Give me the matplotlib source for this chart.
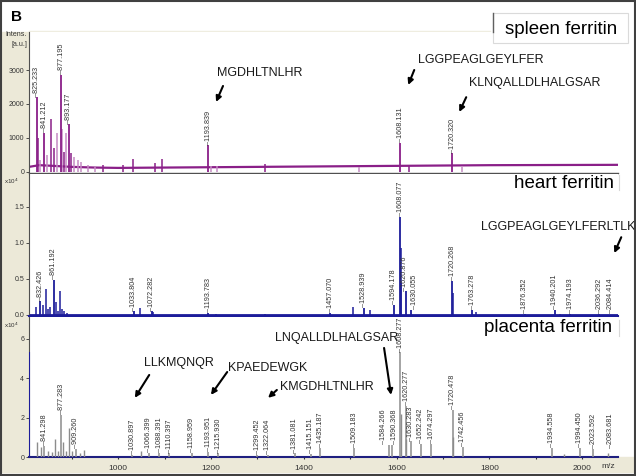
import matplotlib
matplotlib.use("Agg")
import matplotlib.pyplot as plt
from matplotlib.patches import Rectangle
from matplotlib.lines import Line2D

plt.rcParams['font.family'] = ['Liberation Sans', 'DejaVu Sans']

# ---------------- data ----------------
mz_range = [808, 2077]

# spleen ferritin (a.u.)
spleen_lab_mz = [825.233, 841.212, 877.195, 893.177, 1193.839, 1608.131, 1720.320]
spleen_lab_int = [2200, 1150, 2850, 1400, 780, 860, 550]
spleen_pk_mz = [827.5, 855, 862, 884, 899, 968, 1011, 1032, 1080, 1095, 1317, 1627]
spleen_pk_int = [1000, 1550, 700, 600, 550, 200, 220, 380, 250, 380, 230, 200]
spleen_lt_mz = [831, 846, 868, 879, 888, 905, 913, 920, 935, 950, 1200, 1214, 1520, 1740]
spleen_lt_int = [350, 500, 1150, 1250, 1150, 450, 350, 300, 200, 150, 180, 170, 160, 140]
spleen_base_mz = [808, 830, 860, 900, 950, 1000, 1100, 1200, 1400, 1600, 1800, 2077]
spleen_base_int = [150, 200, 180, 150, 130, 120, 130, 140, 160, 180, 200, 210]

# heart ferritin (x10^4)
heart_lab_mz = [832.426, 861.192, 1033.804, 1072.282, 1193.783, 1457.070, 1528.939,
                1594.178, 1608.077, 1620.876, 1630.055, 1720.268, 1763.278,
                1876.352, 1940.201, 1974.193, 2036.292, 2084.414]
heart_lab_int = [0.19, 0.49, 0.05, 0.05, 0.03, 0.03, 0.10, 0.14, 1.365, 0.33, 0.07,
                 0.47, 0.07, 0.02, 0.07, 0.015, 0.02, 0.02]
heart_pk_mz = [823, 839, 844, 849, 854, 866, 870, 874.5, 879, 884, 890, 1048, 1076,
               1211, 1317, 1506, 1542, 1609.08, 1610.08, 1721.27, 1771, 1951]
heart_pk_int = [0.11, 0.14, 0.36, 0.08, 0.11, 0.18, 0.06, 0.33, 0.08, 0.05, 0.03,
                0.10, 0.04, 0.02, 0.02, 0.11, 0.07, 0.93, 0.45, 0.30, 0.04, 0.02]

# placenta ferritin (x10^4)
placenta_lab_mz = [841.298, 877.283, 909.260, 1030.897, 1066.399, 1088.391, 1110.397,
                   1158.959, 1193.951, 1215.930, 1299.452, 1322.064, 1381.081,
                   1415.151, 1435.187, 1509.183, 1584.266, 1590.368, 1608.277,
                   1620.277, 1630.283, 1652.242, 1674.297, 1720.478, 1742.456,
                   1934.558, 1994.450, 2023.592, 2083.681]
placenta_lab_int = [0.55, 2.13, 0.40, 0.12, 0.2, 0.2, 0.18, 0.2, 0.25, 0.18, 0.12,
                    0.12, 0.18, 0.15, 0.45, 0.45, 0.6, 0.6, 5.3, 2.6, 0.8, 0.65,
                    0.65, 2.4, 0.5, 0.45, 0.45, 0.4, 0.4]
placenta_pk_mz = [826, 833, 850, 857, 863, 870, 881, 888, 895, 900, 917, 926, 1049,
                  1609.28, 1621.28, 1721.48, 1960, 2055]
placenta_pk_int = [0.76, 0.5, 0.3, 0.25, 0.9, 0.3, 0.75, 0.3, 1.47, 0.3, 0.2, 0.35,
                   0.3, 2.2, 0.9, 1.0, 0.15, 0.2]
placenta_edge_mz = [808.6]
placenta_edge_int = [5.3]

# peptide annotations: (text, text x, text y, arrow start, arrow tip) in data units
spleen_peptides = [
    ("MGDHLTNLHR", 1213, 2910, (1226, 2530), (1211, 2060)),
    ("LGGPEAGLGEYLFER", 1646, 3290, (1638, 3000), (1625, 2560)),
    ("KLNQALLDLHALGSAR", 1756, 2620, (1750, 2200), (1735, 1765)),
]
heart_peptides = [
    ("LGGPEAGLGEYLFERLTLK", 1782, 1.22, (2084, 1.08), (2069, 0.86)),
]
placenta_peptides = [
    ("LNQALLDLHALGSAR", 1338, 6.04, (1573, 5.53), (1588, 3.15)),
    ("LLKMQNQR", 1056, 4.77, (1067, 4.16), (1036, 3.0)),
    ("KPAEDEWGK", 1237, 4.52, (1235, 4.31), (1200, 3.15)),
    ("KMGDHLTNLHR", 1349, 3.55, (1342, 3.4), (1323, 3.0)),
]

sample_names = ["spleen ferritin", "heart ferritin", "placenta ferritin"]
x_ticks = [1000, 1200, 1400, 1600, 1800, 2000]
x_minor = [900, 1100, 1300, 1500, 1700, 1900]
spleen_yticks = [0, 1000, 2000, 3000]
heart_yticks = [0.0, 0.5, 1.0, 1.5]
placenta_yticks = [0, 2, 4, 6]

# ---------------- figure ----------------
W, H = 636, 476
fig = plt.figure(figsize=(W / 100, H / 100), dpi=100)
fig.patch.set_facecolor("white")

def fx(x):
    return x / W

def fy(y):
    return 1 - y / H

beige = "#ECE9D8"
fig.patches.append(Rectangle((fx(2), fy(472)), fx(29) - fx(2), fy(32) - fy(472),
                             transform=fig.transFigure, color=beige, zorder=-2))
fig.patches.append(Rectangle((fx(2), fy(472)), fx(633) - fx(2), fy(457) - fy(472),
                             transform=fig.transFigure, color=beige, zorder=-2))
fig.patches.append(Rectangle((0.002, 0.002), 0.996, 0.995, transform=fig.transFigure,
                             fill=False, edgecolor="#404040", lw=1.5, zorder=5))
fig.lines.append(Line2D([fx(29), fx(490)], [fy(31), fy(31)], transform=fig.transFigure,
                        color="#EFEDE0", lw=1, zorder=-1))

left = fx(29)
width = fx(618) - fx(29)
ax1 = fig.add_axes([left, fy(173), width, fy(32) - fy(173)])
ax2 = fig.add_axes([left, fy(316), width, fy(174) - fy(316)])
ax3 = fig.add_axes([left, fy(457), width, fy(317) - fy(457)])

purple = "#8A1F88"
pink = "#C58BC4"
navy = "#1C1C9A"
gray = "#8C8C8C"
lab_font = ['Liberation Sans Narrow', 'Liberation Sans', 'DejaVu Sans']

for ax in (ax1, ax2, ax3):
    ax.set_xlim(mz_range)
    ax.set_facecolor("white")
    for s in ("top", "right"):
        ax.spines[s].set_visible(False)
    ax.spines["left"].set_color("#505050")
    ax.spines["left"].set_linewidth(0.8)
    ax.tick_params(axis="y", labelsize=5, length=2.5, width=0.6, pad=1,
                   colors="#333333")
    ax.set_xticks([])

ax1.set_ylim(-30, 4118)
ax2.set_ylim(-0.014, 1.958)
ax3.set_ylim(0, 7.1)
ax1.set_yticks(spleen_yticks)
ax2.set_yticks(heart_yticks)
ax2.set_yticklabels([f"{v:.1f}" for v in heart_yticks])
ax3.set_yticks(placenta_yticks)

ax1.spines["bottom"].set_color("#505050")
ax1.spines["bottom"].set_linewidth(1.0)
ax2.spines["bottom"].set_color(navy)
ax2.spines["bottom"].set_linewidth(1.5)
ax3.spines["bottom"].set_color("#1F1F80")
ax3.spines["bottom"].set_linewidth(1.5)

ax3.set_xticks(x_ticks)
ax3.set_xticks(x_minor, minor=True)
ax3.tick_params(axis="x", which="both", labelsize=6, length=1.5, width=0.8, pad=4,
                colors="#333333")
ax3.set_xlim(mz_range)

# spectra
ax1.plot(spleen_base_mz, spleen_base_int, color=purple, lw=1.6, zorder=2)
ax1.vlines(spleen_lt_mz, 0, spleen_lt_int, color=pink, lw=1.1, zorder=2)
ax1.vlines(spleen_pk_mz, 0, spleen_pk_int, color=purple, lw=1.1, zorder=3)
ax1.vlines(spleen_lab_mz, 0, spleen_lab_int, color=purple, lw=1.3, zorder=3)

ax2.plot(mz_range, [0.004, 0.004], color=navy, lw=2.0, zorder=2)
ax2.vlines(heart_pk_mz, 0, heart_pk_int, color=navy, lw=1.1, zorder=3)
ax2.vlines(heart_lab_mz, 0, heart_lab_int, color=navy, lw=1.3, zorder=3)

ax3.vlines(placenta_pk_mz, 0, placenta_pk_int, color=gray, lw=1.0, zorder=3)
ax3.vlines(placenta_lab_mz, 0, placenta_lab_int, color=gray, lw=1.1, zorder=3)
ax3.vlines(placenta_edge_mz, 0, placenta_edge_int, color=navy, lw=1.5, zorder=3)

label_shift = {1584.266: -4, 1590.368: 2, 1620.876: -1.5, 1630.055: 2.5}

def label_peaks(ax, mzs, ints):
    xmax = mz_range[1] - 16
    for m, v in zip(mzs, ints):
        ax.annotate("\u2013" + f"{m:.3f}", xy=(min(m, xmax), v),
                    xytext=(label_shift.get(m, 0), 0.5),
                    textcoords="offset points", rotation=90, ha="center", va="bottom",
                    fontsize=5.2, color="#333333", family=lab_font, zorder=4)

label_peaks(ax1, spleen_lab_mz, spleen_lab_int)
label_peaks(ax2, heart_lab_mz, heart_lab_int)
label_peaks(ax3, placenta_lab_mz, placenta_lab_int)

def peptides(ax, items):
    for txt, tx, ty, start, tip in items:
        ax.text(tx, ty, txt, ha="left", va="center", fontsize=9,
                family=lab_font, color="#1a1a1a", zorder=6, clip_on=False)
        ax.annotate("", xy=tip, xytext=start,
                    arrowprops=dict(arrowstyle="-|>", color="black", lw=1.5,
                                    mutation_scale=8, shrinkA=0, shrinkB=0),
                    zorder=6, annotation_clip=False)

peptides(ax1, spleen_peptides)
peptides(ax2, heart_peptides)
peptides(ax3, placenta_peptides)

# sample names
fig.patches.append(Rectangle((fx(493), fy(43)), fx(628) - fx(493), fy(13) - fy(43),
                             transform=fig.transFigure, fill=False,
                             edgecolor="#DADADA", lw=0.8))
fig.lines.append(Line2D([fx(493), fx(493)], [fy(13), fy(32)], transform=fig.transFigure,
                        color="#606060", lw=1))
fig.text(fx(561), fy(29), sample_names[0], ha="center", va="center", fontsize=13.5,
         color="black")
fig.text(fx(564), fy(183), sample_names[1], ha="center", va="center", fontsize=13.5,
         color="black")
fig.lines.append(Line2D([fx(619), fx(619)], [fy(175), fy(190)], transform=fig.transFigure,
                        color="#D8D8D8", lw=0.8))
fig.text(fx(548), fy(328), sample_names[2], ha="center", va="center", fontsize=13.5,
         color="black")
fig.lines.append(Line2D([fx(619), fx(619)], [fy(320), fy(336)], transform=fig.transFigure,
                        color="#D8D8D8", lw=0.8))

# misc labels
fig.text(fx(16), fy(17), "B", ha="center", va="center", fontsize=11, weight="bold")
fig.text(fx(27), fy(35), "Intens.", ha="right", va="center", fontsize=5, color="#333333")
fig.text(fx(27), fy(45), "[a.u.]", ha="right", va="center", fontsize=5, color="#333333")
fig.text(fx(19), fy(181), r"x10$^4$", ha="right", va="center", fontsize=4.5, color="#333333")
fig.text(fx(19), fy(325), r"x10$^4$", ha="right", va="center", fontsize=4.5, color="#333333")
fig.text(fx(608), fy(467), "m/z", ha="center", va="center", fontsize=6, color="#333333")

fig.savefig("out.png", dpi=100, facecolor="white")
